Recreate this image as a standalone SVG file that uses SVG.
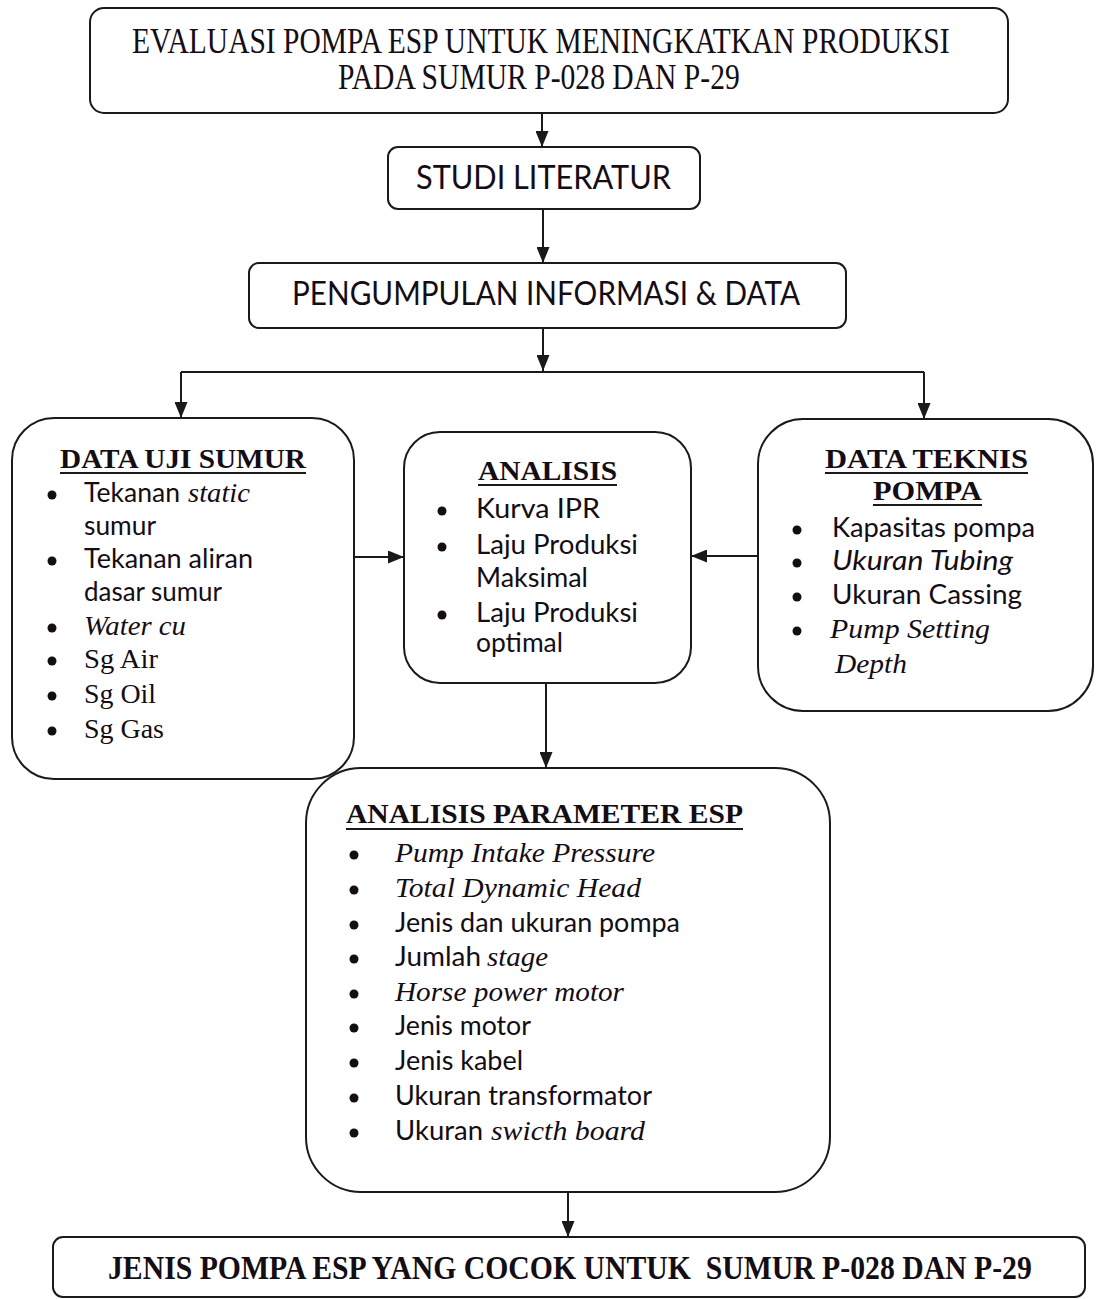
<svg xmlns="http://www.w3.org/2000/svg" width="1097" height="1299" viewBox="0 0 1097 1299">
  <style>
    .box { fill: #ffffff; stroke: #1a1a1a; stroke-width: 2; }
    .wire { fill: none; stroke: #1a1a1a; stroke-width: 2; }
    .ul { stroke: #1a1a1a; stroke-width: 2; }
    .dot { fill: #140d14; }
    text { fill: #140d14; }
    .serif { font-family: "Liberation Serif", "Times New Roman", serif; font-size: 28px; }
    .sans { font-family: "Lato", "Open Sans", sans-serif; font-size: 27px; }
    .it { font-style: italic; }
    .head { font-family: "Liberation Serif", "Times New Roman", serif; font-size: 28px; font-weight: bold; }
    .title { font-family: "Liberation Serif", "Times New Roman", serif; font-size: 35px; }
    .step { font-family: "Lato", "Open Sans", sans-serif; font-size: 33px; }
    .final { font-family: "Liberation Serif", "Times New Roman", serif; font-size: 33px; font-weight: bold; white-space: pre; }
  </style>
  <defs>
    <marker id="arrow" markerUnits="userSpaceOnUse" markerWidth="16" markerHeight="13" refX="16" refY="6.5" orient="auto">
      <path d="M0,0 L16,6.5 L0,13 z" fill="#1a1a1a"/>
    </marker>
  </defs>

  <!-- connectors -->
  <g id="connectors">
    <path class="wire" d="M542 114 V147" marker-end="url(#arrow)"/>
    <path class="wire" d="M543 209 V263" marker-end="url(#arrow)"/>
    <path class="wire" d="M543 328 V371" marker-end="url(#arrow)"/>
    <path class="wire" d="M181 372 H924"/>
    <path class="wire" d="M181 372 V418" marker-end="url(#arrow)"/>
    <path class="wire" d="M924 372 V419" marker-end="url(#arrow)"/>
    <path class="wire" d="M354 557 H404" marker-end="url(#arrow)"/>
    <path class="wire" d="M758 556 H691" marker-end="url(#arrow)"/>
    <path class="wire" d="M546 683 V768" marker-end="url(#arrow)"/>
    <path class="wire" d="M568 1192 V1237" marker-end="url(#arrow)"/>
  </g>

  <!-- title, set in a horizontally condensed serif -->
  <g id="judul">
    <rect class="box" x="90" y="8" width="918" height="105" rx="14"/>
    <text class="title" transform="translate(132 53) scale(0.83 1)" x="0" y="0" textLength="985" lengthAdjust="spacingAndGlyphs">EVALUASI POMPA ESP UNTUK MENINGKATKAN PRODUKSI</text>
    <text class="title" transform="translate(338 89) scale(0.83 1)" x="0" y="0" textLength="484" lengthAdjust="spacingAndGlyphs">PADA SUMUR P-028 DAN P-29</text>
  </g>

  <g id="studi-literatur">
    <rect class="box" x="388" y="147" width="312" height="62" rx="10"/>
    <text class="step" x="416" y="189" textLength="255" lengthAdjust="spacingAndGlyphs">STUDI LITERATUR</text>
  </g>

  <g id="pengumpulan-data">
    <rect class="box" x="249" y="263" width="597" height="65" rx="10"/>
    <text class="step" x="292" y="305" textLength="508" lengthAdjust="spacingAndGlyphs">PENGUMPULAN INFORMASI &amp; DATA</text>
  </g>

  <!-- well test data -->
  <g id="data-uji-sumur">
    <rect class="box" x="12" y="418" width="342" height="361" rx="42"/>
    <text class="head" x="60" y="468" textLength="246" lengthAdjust="spacingAndGlyphs">DATA UJI SUMUR</text>
    <line class="ul" x1="60" y1="473" x2="306" y2="473"/>
    <circle class="dot" cx="52" cy="495" r="4.5"/>
    <circle class="dot" cx="52" cy="561" r="4.5"/>
    <circle class="dot" cx="52" cy="628" r="4.5"/>
    <circle class="dot" cx="52" cy="661" r="4.5"/>
    <circle class="dot" cx="52" cy="696" r="4.5"/>
    <circle class="dot" cx="52" cy="731" r="4.5"/>
    <text class="sans" x="84" y="502" textLength="96" lengthAdjust="spacingAndGlyphs">Tekanan</text>
    <text class="serif it" x="188" y="502" textLength="62" lengthAdjust="spacingAndGlyphs">static</text>
    <text class="sans" x="84" y="535" textLength="72" lengthAdjust="spacingAndGlyphs">sumur</text>
    <text class="sans" x="84" y="568" textLength="169" lengthAdjust="spacingAndGlyphs">Tekanan aliran</text>
    <text class="sans" x="84" y="601" textLength="138" lengthAdjust="spacingAndGlyphs">dasar sumur</text>
    <text class="serif it" x="84" y="635" textLength="102" lengthAdjust="spacingAndGlyphs">Water cu</text>
    <text class="serif" x="84" y="668" textLength="74" lengthAdjust="spacingAndGlyphs">Sg Air</text>
    <text class="serif" x="84" y="703" textLength="72" lengthAdjust="spacingAndGlyphs">Sg Oil</text>
    <text class="serif" x="84" y="738" textLength="80" lengthAdjust="spacingAndGlyphs">Sg Gas</text>
  </g>

  <!-- analysis -->
  <g id="analisis">
    <rect class="box" x="404" y="432" width="287" height="251" rx="36"/>
    <text class="head" x="478" y="480" textLength="139" lengthAdjust="spacingAndGlyphs">ANALISIS</text>
    <line class="ul" x1="478" y1="485" x2="617" y2="485"/>
    <circle class="dot" cx="442" cy="511" r="4.5"/>
    <circle class="dot" cx="442" cy="547" r="4.5"/>
    <circle class="dot" cx="442" cy="615" r="4.5"/>
    <text class="sans" x="476" y="518" textLength="124" lengthAdjust="spacingAndGlyphs">Kurva IPR</text>
    <text class="sans" x="476" y="554" textLength="162" lengthAdjust="spacingAndGlyphs">Laju Produksi</text>
    <text class="sans" x="476" y="587" textLength="112" lengthAdjust="spacingAndGlyphs">Maksimal</text>
    <text class="sans" x="476" y="622" textLength="162" lengthAdjust="spacingAndGlyphs">Laju Produksi</text>
    <text class="sans" x="476" y="652" textLength="87" lengthAdjust="spacingAndGlyphs">optimal</text>
  </g>

  <!-- pump technical data -->
  <g id="data-teknis-pompa">
    <rect class="box" x="758" y="419" width="335" height="292" rx="45"/>
    <text class="head" x="825" y="468" textLength="203" lengthAdjust="spacingAndGlyphs">DATA TEKNIS</text>
    <line class="ul" x1="825" y1="473" x2="1028" y2="473"/>
    <text class="head" x="873" y="500" textLength="109" lengthAdjust="spacingAndGlyphs">POMPA</text>
    <line class="ul" x1="873" y1="505" x2="982" y2="505"/>
    <circle class="dot" cx="797" cy="530" r="4.5"/>
    <circle class="dot" cx="797" cy="563" r="4.5"/>
    <circle class="dot" cx="797" cy="597" r="4.5"/>
    <circle class="dot" cx="797" cy="631" r="4.5"/>
    <text class="sans" x="832" y="537" textLength="203" lengthAdjust="spacingAndGlyphs">Kapasitas pompa</text>
    <text class="sans it" x="832" y="570" textLength="181" lengthAdjust="spacingAndGlyphs">Ukuran Tubing</text>
    <text class="sans" x="832" y="604" textLength="190" lengthAdjust="spacingAndGlyphs">Ukuran Cassing</text>
    <text class="serif it" x="830" y="638" textLength="160" lengthAdjust="spacingAndGlyphs">Pump Setting</text>
    <text class="serif it" x="835" y="673" textLength="72" lengthAdjust="spacingAndGlyphs">Depth</text>
  </g>

  <!-- ESP parameter analysis -->
  <g id="analisis-parameter-esp">
    <rect class="box" x="306" y="768" width="524" height="424" rx="55"/>
    <text class="head" x="346" y="823" textLength="397" lengthAdjust="spacingAndGlyphs">ANALISIS PARAMETER ESP</text>
    <line class="ul" x1="346" y1="829" x2="743" y2="829"/>
    <circle class="dot" cx="354" cy="855" r="4.5"/>
    <circle class="dot" cx="354" cy="890" r="4.5"/>
    <circle class="dot" cx="354" cy="925" r="4.5"/>
    <circle class="dot" cx="354" cy="959" r="4.5"/>
    <circle class="dot" cx="354" cy="994" r="4.5"/>
    <circle class="dot" cx="354" cy="1028" r="4.5"/>
    <circle class="dot" cx="354" cy="1063" r="4.5"/>
    <circle class="dot" cx="354" cy="1098" r="4.5"/>
    <circle class="dot" cx="354" cy="1133" r="4.5"/>
    <text class="serif it" x="395" y="862" textLength="260" lengthAdjust="spacingAndGlyphs">Pump Intake Pressure</text>
    <text class="serif it" x="395" y="897" textLength="246" lengthAdjust="spacingAndGlyphs">Total Dynamic Head</text>
    <text class="sans" x="395" y="932" textLength="285" lengthAdjust="spacingAndGlyphs">Jenis dan ukuran pompa</text>
    <text class="sans" x="395" y="966" textLength="86" lengthAdjust="spacingAndGlyphs">Jumlah</text>
    <text class="serif it" x="487" y="966" textLength="61" lengthAdjust="spacingAndGlyphs">stage</text>
    <text class="serif it" x="395" y="1001" textLength="229" lengthAdjust="spacingAndGlyphs">Horse power motor</text>
    <text class="sans" x="395" y="1035" textLength="136" lengthAdjust="spacingAndGlyphs">Jenis motor</text>
    <text class="sans" x="395" y="1070" textLength="128" lengthAdjust="spacingAndGlyphs">Jenis kabel</text>
    <text class="sans" x="395" y="1105" textLength="257" lengthAdjust="spacingAndGlyphs">Ukuran transformator</text>
    <text class="sans" x="395" y="1140" textLength="88" lengthAdjust="spacingAndGlyphs">Ukuran</text>
    <text class="serif it" x="491" y="1140" textLength="154" lengthAdjust="spacingAndGlyphs">swicth board</text>
  </g>

  <!-- result, condensed bold serif -->
  <g id="hasil">
    <rect class="box" x="53" y="1237" width="1032" height="60" rx="10"/>
    <text class="final" transform="translate(108 1279) scale(0.89 1)" x="0" y="0" textLength="1038" lengthAdjust="spacingAndGlyphs">JENIS POMPA ESP YANG COCOK UNTUK  SUMUR P-028 DAN P-29</text>
  </g>
</svg>
